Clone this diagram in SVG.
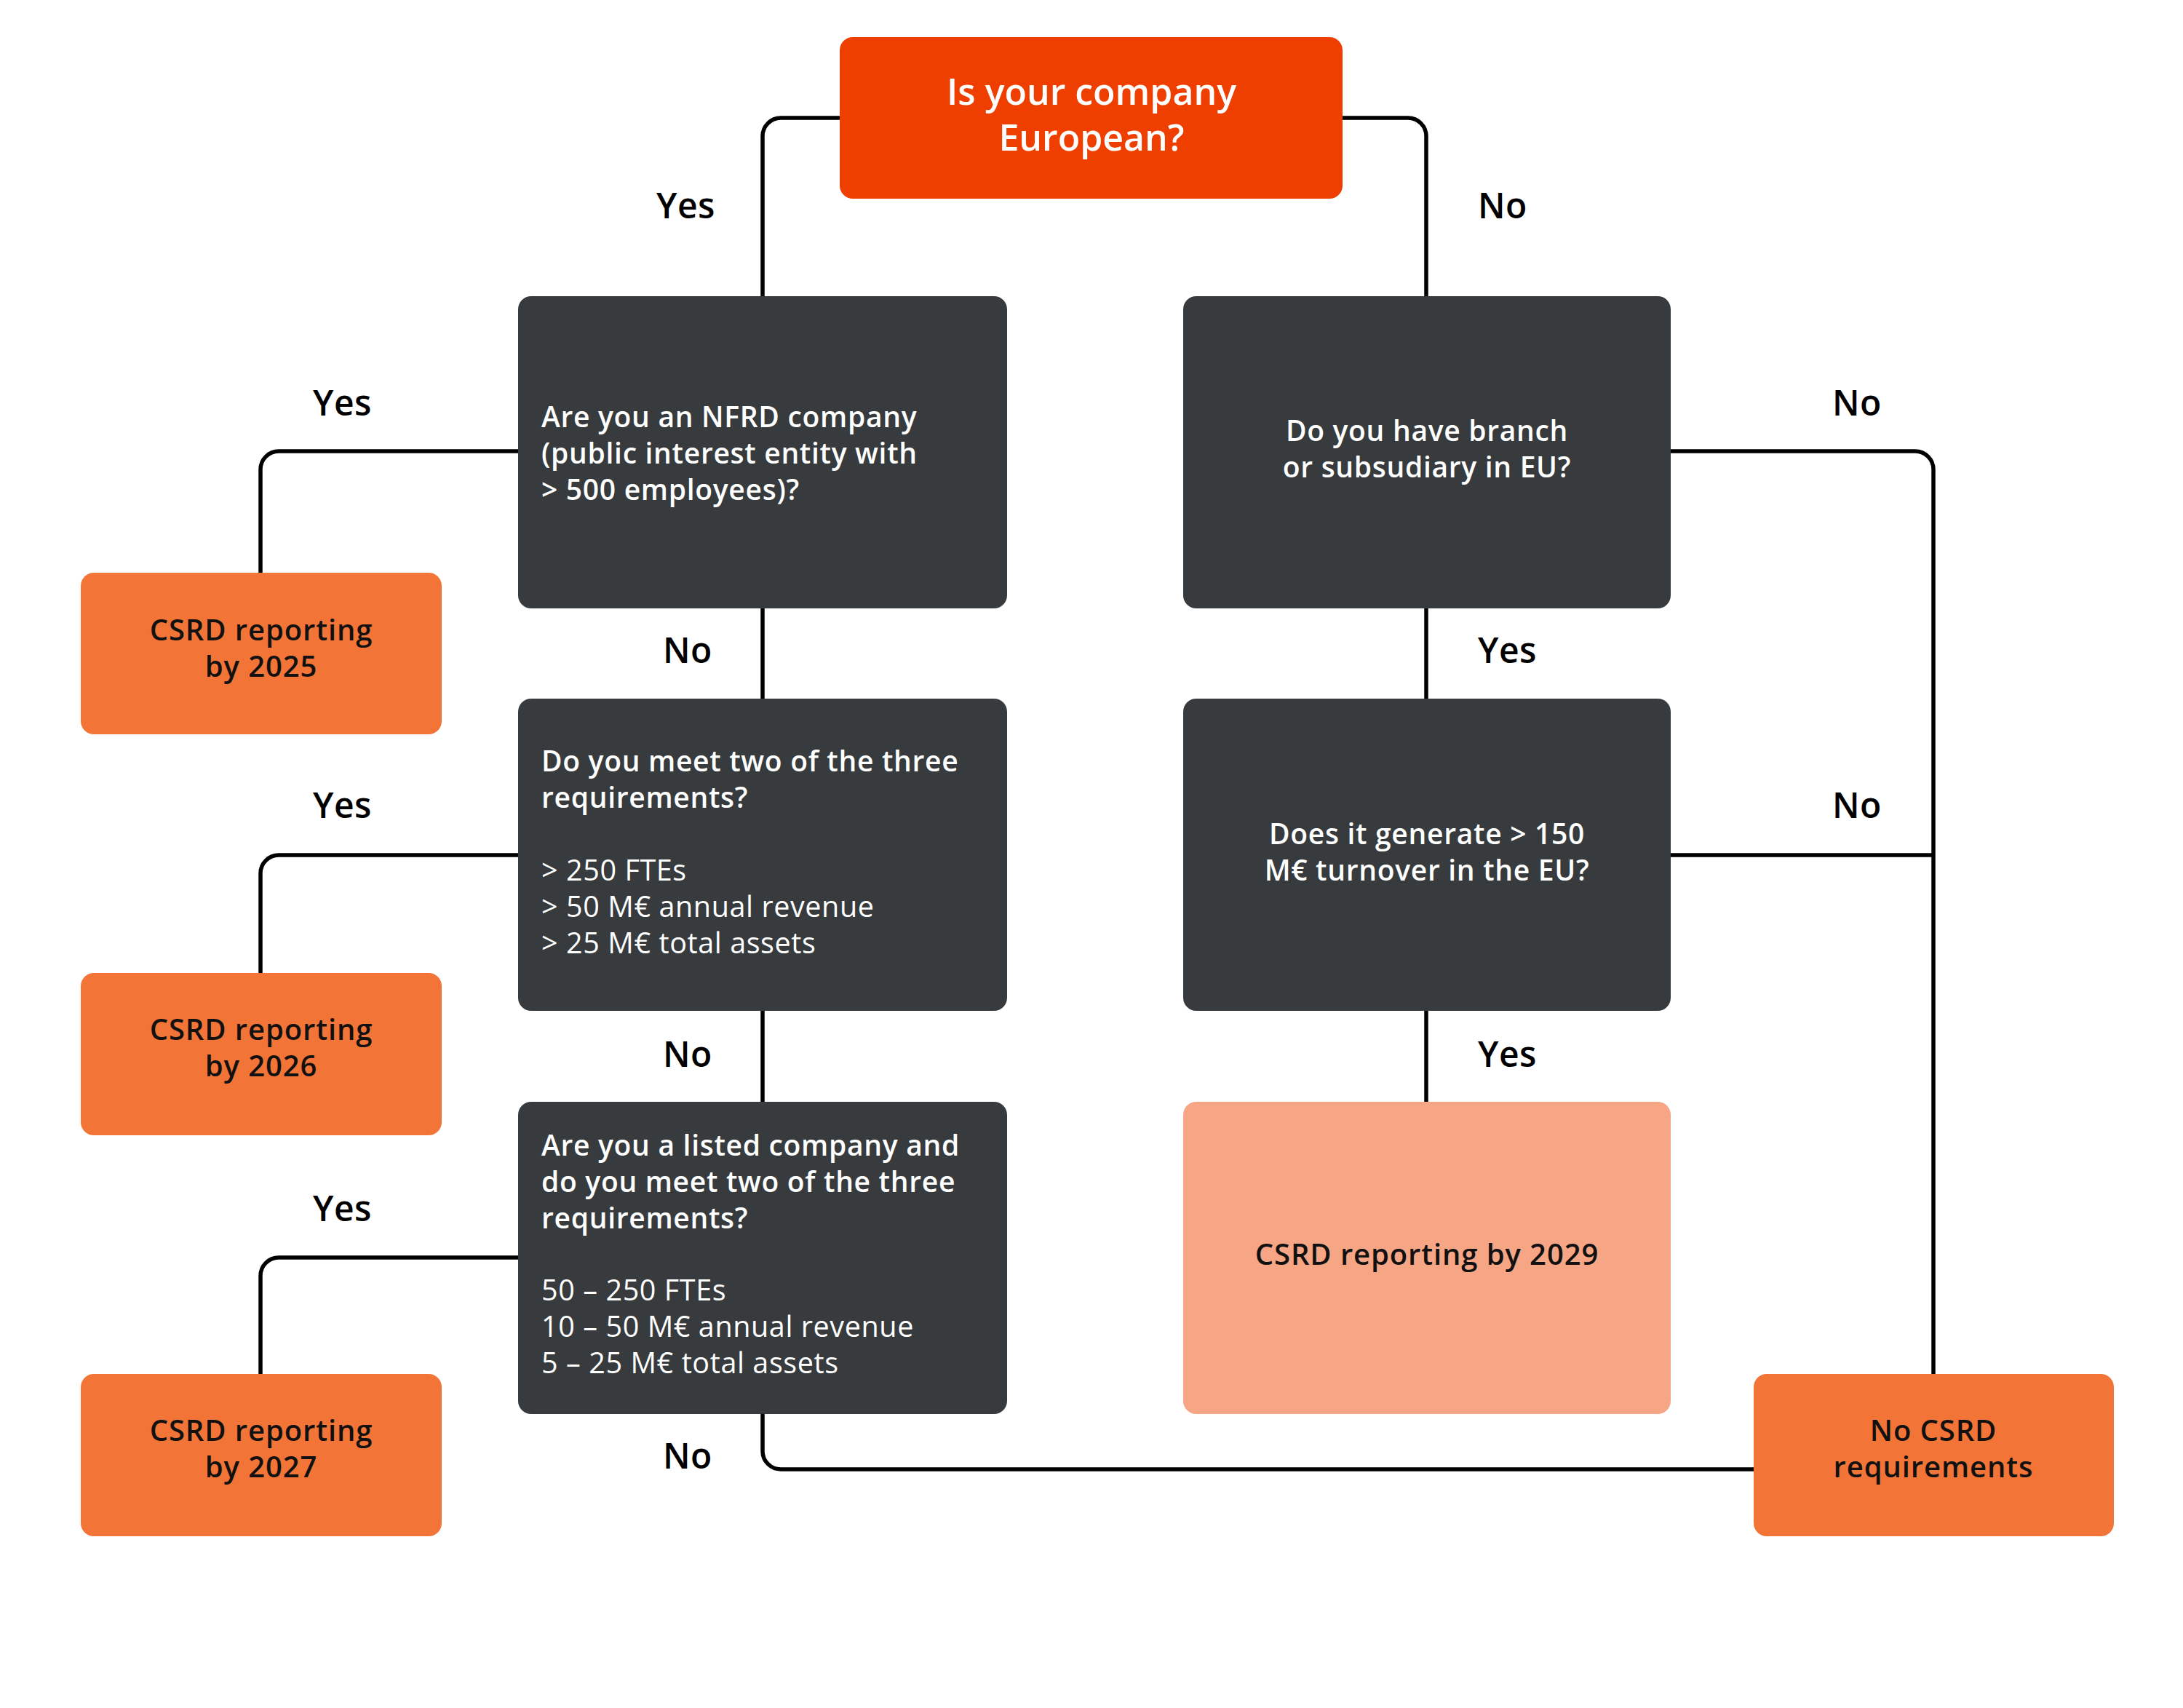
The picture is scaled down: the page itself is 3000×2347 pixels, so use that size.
<svg xmlns="http://www.w3.org/2000/svg" width="3000" height="2347" viewBox="0 0 3000 2347">
<style>
.dark{fill:#373B3E}
.org{fill:#F27437}
.top{fill:#EF3F00}
.sal{fill:#F6A585}
.t{font-family:"Open Sans","Noto Sans",sans-serif;font-weight:600;font-size:39px;letter-spacing:0.7px}
.w{fill:#FFFFFF}
.k{fill:#111111;font-size:40px;letter-spacing:0.9px}
.reg{font-weight:400;font-size:39.5px;letter-spacing:0.6px}
.lbl{font-family:"Open Sans","Noto Sans",sans-serif;font-weight:600;font-size:48px;letter-spacing:0.5px;fill:#000000}
.c{text-anchor:middle}
.ln{fill:none;stroke:#000000;stroke-width:5.5;stroke-linejoin:round}
</style>
<rect width="3000" height="2347" fill="#FFFFFF"/>
<g id="connectors">
<path class="ln" d="M1154,162 H1073 A25,25 0 0 0 1048,187 V407"/>
<path class="ln" d="M1845,162 H1935 A25,25 0 0 1 1960,187 V407"/>
<path class="ln" d="M712,620 H383 A25,25 0 0 0 358,645 V787"/>
<path class="ln" d="M1048,836 V960"/>
<path class="ln" d="M712,1175 H383 A25,25 0 0 0 358,1200 V1337"/>
<path class="ln" d="M1048,1389 V1514"/>
<path class="ln" d="M712,1728 H383 A25,25 0 0 0 358,1753 V1888"/>
<path class="ln" d="M1048,1943 V1994 A25,25 0 0 0 1073,2019 H2410"/>
<path class="ln" d="M2296,620 H2632 A25,25 0 0 1 2657,645 V1888"/>
<path class="ln" d="M2296,1175 H2657"/>
<path class="ln" d="M1960,836 V960"/>
<path class="ln" d="M1960,1389 V1514"/>
</g>
<g id="labels">
<text class="lbl" x="902" y="300">Yes</text>
<text class="lbl" x="2031" y="300">No</text>
<text class="lbl" x="430" y="571">Yes</text>
<text class="lbl" x="2518" y="571">No</text>
<text class="lbl" x="911" y="911">No</text>
<text class="lbl" x="2031" y="911">Yes</text>
<text class="lbl" x="430" y="1124">Yes</text>
<text class="lbl" x="2518" y="1124">No</text>
<text class="lbl" x="911" y="1466">No</text>
<text class="lbl" x="2031" y="1466">Yes</text>
<text class="lbl" x="430" y="1678">Yes</text>
<text class="lbl" x="911" y="2018">No</text>
</g>
<g id="n-european">
<rect class="top" x="1154" y="51" width="691" height="222" rx="18"/>
<text class="t w c" style="font-size:50px;letter-spacing:0" x="1500" y="144">Is your company</text>
<text class="t w c" style="font-size:50px;letter-spacing:0" x="1500" y="207">European?</text>
</g>
<g id="n-nfrd">
<rect class="dark" x="712" y="407" width="672" height="429" rx="18"/>
<text class="t w" x="744" y="587">Are you an NFRD company</text>
<text class="t w" x="744" y="637">(public interest entity with</text>
<text class="t w" x="744" y="687">&gt; 500 employees)?</text>
</g>
<g id="n-branch">
<rect class="dark" x="1626" y="407" width="670" height="429" rx="18"/>
<text class="t w c" x="1961" y="606">Do you have branch</text>
<text class="t w c" x="1961" y="656">or subsudiary in EU?</text>
</g>
<g id="n-2025">
<rect class="org" x="111" y="787" width="496" height="222" rx="18"/>
<text class="t k c" x="359" y="880">CSRD reporting</text>
<text class="t k c" x="359" y="930">by 2025</text>
</g>
<g id="n-two">
<rect class="dark" x="712" y="960" width="672" height="429" rx="18"/>
<text class="t w" x="744" y="1060">Do you meet two of the three</text>
<text class="t w" x="744" y="1110">requirements?</text>
<text class="t w reg" x="744" y="1210">&gt; 250 FTEs</text>
<text class="t w reg" x="744" y="1260">&gt; 50 M€ annual revenue</text>
<text class="t w reg" x="744" y="1310">&gt; 25 M€ total assets</text>
</g>
<g id="n-turnover">
<rect class="dark" x="1626" y="960" width="670" height="429" rx="18"/>
<text class="t w c" x="1961" y="1160">Does it generate &gt; 150</text>
<text class="t w c" x="1961" y="1210">M€ turnover in the EU?</text>
</g>
<g id="n-2026">
<rect class="org" x="111" y="1337" width="496" height="223" rx="18"/>
<text class="t k c" x="359" y="1429">CSRD reporting</text>
<text class="t k c" x="359" y="1479">by 2026</text>
</g>
<g id="n-listed">
<rect class="dark" x="712" y="1514" width="672" height="429" rx="18"/>
<text class="t w" x="744" y="1588">Are you a listed company and</text>
<text class="t w" x="744" y="1638">do you meet two of the three</text>
<text class="t w" x="744" y="1688">requirements?</text>
<text class="t w reg" x="744" y="1787">50 – 250 FTEs</text>
<text class="t w reg" x="744" y="1837">10 – 50 M€ annual revenue</text>
<text class="t w reg" x="744" y="1887">5 – 25 M€ total assets</text>
</g>
<g id="n-2029">
<rect class="sal" x="1626" y="1514" width="670" height="429" rx="18"/>
<text class="t k c" x="1961" y="1738">CSRD reporting by 2029</text>
</g>
<g id="n-2027">
<rect class="org" x="111" y="1888" width="496" height="223" rx="18"/>
<text class="t k c" x="359" y="1980">CSRD reporting</text>
<text class="t k c" x="359" y="2030">by 2027</text>
</g>
<g id="n-none">
<rect class="org" x="2410" y="1888" width="495" height="223" rx="18"/>
<text class="t k c" x="2657" y="1980">No CSRD</text>
<text class="t k c" x="2657" y="2030">requirements</text>
</g>
</svg>
